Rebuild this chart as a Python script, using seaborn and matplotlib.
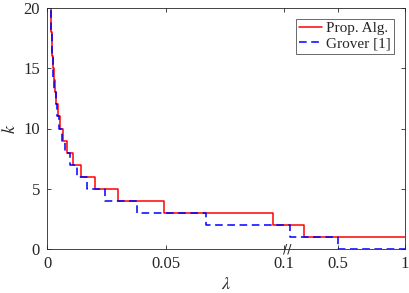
import numpy as np
import pandas as pd
import matplotlib
matplotlib.use("Agg")
import matplotlib.pyplot as plt
import seaborn as sns

# ---- data ----
prop_lambda = [0.001467, 0.001467, 0.001621, 0.001801, 0.002013, 0.002264, 0.002565,
               0.002931, 0.00338, 0.003943, 0.004657, 0.005585, 0.00682, 0.008513,
               0.01093, 0.01453, 0.02025, 0.03015, 0.0495, 0.0955, 0.25, 1.0]
prop_k = [22, 20, 19, 18, 17, 16, 15, 14, 13, 12, 11, 10, 9, 8, 7, 6, 5, 4, 3, 2, 1, 1]

grover_lambda = [0.001398, 0.001398, 0.001541, 0.001708, 0.001903, 0.002133, 0.002408,
                 0.00274, 0.003144, 0.003646, 0.004278, 0.00509, 0.006156, 0.0076,
                 0.00961, 0.01254, 0.01704, 0.02447, 0.0381, 0.067, 0.1464, 0.5, 1.0]
grover_k = [22, 20, 19, 18, 17, 16, 15, 14, 13, 12, 11, 10, 9, 8, 7, 6, 5, 4, 3, 2, 1, 0, 0]

x_ticks = [0, 0.05, 0.1, 0.5, 1]
x_tick_labels = ["0", "0.05", "0.1", "0.5", "1"]
y_ticks = [0, 5, 10, 15, 20]
series_names = ["Prop. Alg.", "Grover [1]"]

df = pd.concat([
    pd.DataFrame({"lam": prop_lambda, "k": prop_k, "alg": series_names[0]}),
    pd.DataFrame({"lam": grover_lambda, "k": grover_k, "alg": series_names[1]}),
], ignore_index=True)

# ---- style ----
sns.set_style("ticks")
plt.rcParams["font.family"] = ["Liberation Serif", "DejaVu Serif"]
plt.rcParams["mathtext.fontset"] = "stix"

fig = plt.figure(figsize=(4.09, 2.93), dpi=100)
ax = fig.add_axes([47/409, 1-249/293, 358/409, 241/293])

# piecewise-linear broken x axis
src = [0.0, 0.1, 0.5, 1.0]
dst = [0.0, 237/358, 291/358, 1.0]
fwd = lambda x: np.interp(x, src, dst)
inv = lambda y: np.interp(y, dst, src)
ax.set_xscale("function", functions=(fwd, inv))

for name, color, ls in [(series_names[0], "#ff0000", "-"), (series_names[1], "#0000ff", "--")]:
    sub = df[df["alg"] == name]
    ax.plot(sub["lam"], sub["k"], drawstyle="steps-post", color=color,
            linestyle=ls, linewidth=1.1, label=name,
            dashes=(5, 3) if ls == "--" else (None, None))

ax.set_xlim(0, 1)
ax.set_ylim(0, 20)
ax.set_xticks(x_ticks)
ax.set_xticklabels(x_tick_labels)
ax.set_yticks(y_ticks)
ax.tick_params(direction="in", top=True, right=True, length=3, width=0.6,
               labelsize=12, colors="#262626", pad=5)
for s in ax.spines.values():
    s.set_linewidth(0.6)
    s.set_color("#262626")

ax.set_xlabel(r"$\lambda$", fontsize=13, labelpad=3)
ax.set_ylabel(r"$k$", fontsize=13, labelpad=3)

# axis-break mark
ax.text((287-47)/358, 0.0, "//", transform=ax.transAxes, ha="center", va="center",
        fontsize=9, color="#262626", family="DejaVu Sans")

leg = ax.legend(loc="upper right", fontsize=11, frameon=True, fancybox=False,
                edgecolor="#262626", handlelength=1.5, handletextpad=0.3,
                borderpad=0.2, labelspacing=0.1, borderaxespad=0.7)
leg.get_frame().set_linewidth(0.6)

fig.savefig("out.png", dpi=100)
